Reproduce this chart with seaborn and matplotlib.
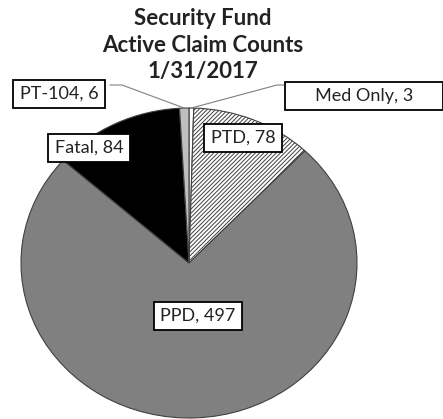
import numpy as np
import seaborn as sns
import matplotlib.pyplot as plt

# data
categories = ["Med Only", "PTD", "PPD", "Fatal", "PT-104"]
counts = [3, 78, 497, 84, 6]
slice_colors = ["#ffffff", "#ffffff", "#808080", "#000000", "#bfbfbf"]
slice_hatches = ["", "////////", "", "", ""]

sns.set_theme(style="white")
plt.rcParams['font.family'] = ['Lato', 'DejaVu Sans']
plt.rcParams['hatch.linewidth'] = 0.7

W, H = 443, 419
fig = plt.figure(figsize=(W / 100, H / 100), dpi=100)
ax = fig.add_axes([0, 0, 1, 1])

# pie centre and radii in pixels (slightly wider than tall, like the original)
cx, cy, rx, ry = 189, 263, 168, 155

def px(x, y):
    # pixel position -> data position
    return (x - cx) / rx, (cy - y) / ry

wedges, _ = ax.pie(counts, colors=slice_colors, startangle=90, counterclock=False,
                   wedgeprops=dict(edgecolor="#404040", linewidth=0.8))
for w, h in zip(wedges, slice_hatches):
    if h:
        w.set_hatch(h)

ax.set_aspect('auto')
x0, y1 = px(0, 0)
x1, y0 = px(W, H)
ax.set_xlim(x0, x1)
ax.set_ylim(y0, y1)
ax.axis('off')

# label box positions (pixels) and leader line knees
label_pos = {"Med Only": (364, 96), "PTD": (243, 138), "PPD": (198, 316),
             "Fatal": (89, 148), "PT-104": (59, 94)}
label_text = {"Med Only": "     Med Only, 3     "}
knees = {"Med Only": [(285, 85), (277, 85)], "PT-104": [(110, 85), (122, 85)]}

for w, cat, n in zip(wedges, categories, counts):
    txt = label_text.get(cat, f"{cat}, {n}")
    tx, ty = px(*label_pos[cat])
    if cat in knees:
        ang = np.deg2rad((w.theta1 + w.theta2) / 2)
        pts = [px(*p) for p in knees[cat]] + [(np.cos(ang), np.sin(ang))]
        ax.plot([p[0] for p in pts], [p[1] for p in pts], color="#808080", lw=0.8, zorder=3)
    ax.text(tx, ty, txt, ha='center', va='center', fontsize=13, color="#222222", zorder=4,
            bbox=dict(boxstyle='square,pad=0.35', fc='white', ec='black', lw=1.3))

tx, ty = px(203, 45)
ax.text(tx, ty, "Security Fund\nActive Claim Counts\n1/31/2017", ha='center', va='center',
        fontsize=16, fontweight='bold', color="#222222", linespacing=1.3)

fig.savefig("out.png", dpi=100)
